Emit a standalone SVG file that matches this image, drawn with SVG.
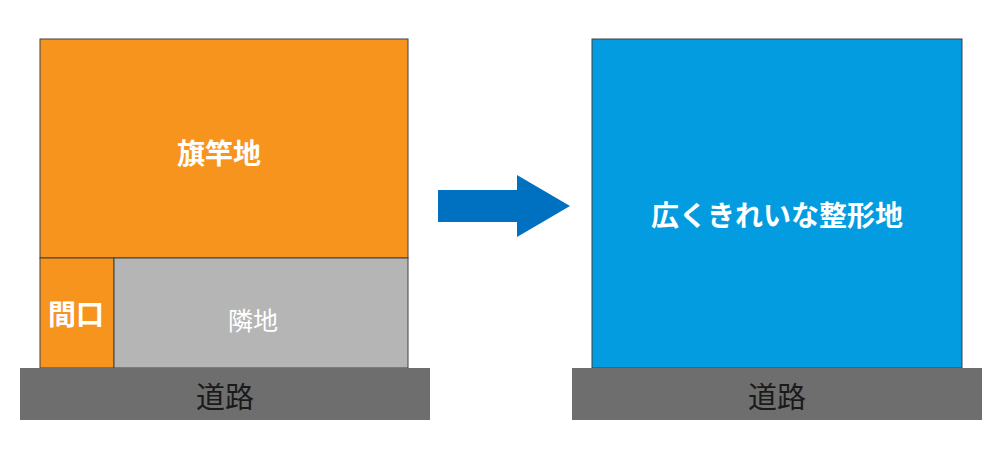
<svg xmlns="http://www.w3.org/2000/svg" width="1000" height="452" viewBox="0 0 1000 452">
<style>
.o{fill:#f7941d;stroke:#404040;stroke-width:1}
.g{fill:#b5b5b5;stroke:#404040;stroke-width:1}
.b{fill:#039ce0;stroke:#404040;stroke-width:1}
.r{fill:#6e6e6e}
text{font-family:"Noto Sans CJK JP","Noto Sans",sans-serif;text-anchor:middle;dominant-baseline:central}
.w{fill:#fff;font-weight:bold;font-size:28px}
.d{fill:#1a1a1a;font-size:29px}
</style>
<rect width="1000" height="452" fill="#fff"/>
<g id="hatazaochi"><rect class="o" x="40" y="39" width="368" height="219"/><text class="w" x="219" y="152">旗竿地</text></g>
<g id="maguchi"><rect class="o" x="40" y="258" width="74" height="110"/><text class="w" x="76" y="313" font-size="25">間口</text></g>
<g id="rinchi"><rect class="g" x="114" y="258" width="294" height="110"/><text x="253" y="319" fill="#fff" font-size="25">隣地</text></g>
<g id="road1"><rect class="r" x="20" y="368" width="410" height="52"/><text class="d" x="225" y="395">道路</text></g>
<g id="seikeichi"><rect class="b" x="592" y="39" width="370" height="329"/><text class="w" x="777" y="214">広くきれいな整形地</text></g>
<g id="road2"><rect class="r" x="572" y="368" width="410" height="52"/><text class="d" x="777" y="395">道路</text></g>
<g id="connectors"><polygon points="438,190 517,190 517,175 570,206 517,237 517,222 438,222" fill="#0070c0"/></g>
</svg>
